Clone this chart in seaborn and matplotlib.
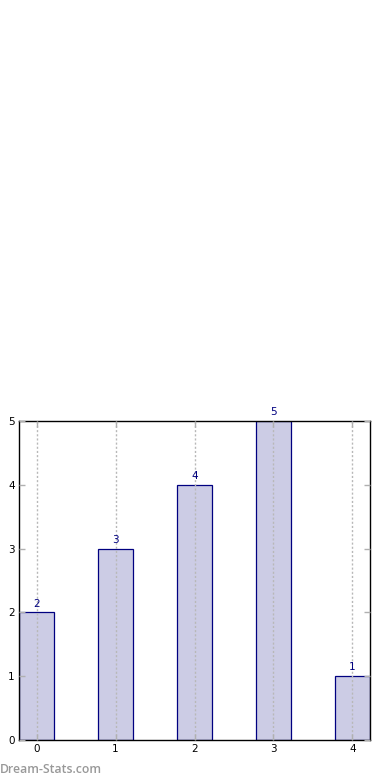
import matplotlib
matplotlib.use("Agg")
import matplotlib.pyplot as plt
import seaborn as sns
import pandas as pd

# chart data
categories = ["0", "1", "2", "3", "4"]
values = [2, 3, 4, 5, 1]

df = pd.DataFrame({"cat": categories, "val": values})

sns.set_style("white")
plt.rcParams["font.family"] = ["DejaVu Sans"]

fig = plt.figure(figsize=(3.9, 7.8), dpi=100)
ax = fig.add_axes([19 / 390, 40 / 780, 351 / 390, 319 / 780])

bar_w = 0.45
sns.barplot(data=df, x="cat", y="val", order=categories, width=bar_w,
            color="#ccccE5", saturation=1, edgecolor="#000080", linewidth=0.9,
            errorbar=None, ax=ax)

# value labels above bars
for i, v in enumerate(values):
    ax.text(i, v + 0.06, str(v), ha="center", va="bottom", fontsize=7.5, color="#000080")

ax.set_xlim(-bar_w / 2, len(categories) - 1 + bar_w / 2)
ax.set_ylim(0, 5)
ax.set_yticks(range(0, 6))
ax.set_xlabel("")
ax.set_ylabel("")

ax.xaxis.grid(True, linestyle=(0, (1.5, 1.5)), color="#b8b8b8", linewidth=1.0)
ax.yaxis.grid(False)
ax.set_axisbelow(False)

for s in ax.spines.values():
    s.set_color("black")
    s.set_linewidth(1.0)
    s.set_visible(True)

ax.tick_params(direction="in", length=4, width=1, color="#b0b0b0", labelsize=7.5,
               labelcolor="black", top=True, right=True, bottom=True, left=True, pad=3)

fig.text(0.0, 4 / 780, "Dream-Stats.com", fontsize=8.8, fontweight="semibold",
         family=["Open Sans", "DejaVu Sans"], color="#999999", ha="left", va="bottom")

fig.savefig("out.png", dpi=100)
